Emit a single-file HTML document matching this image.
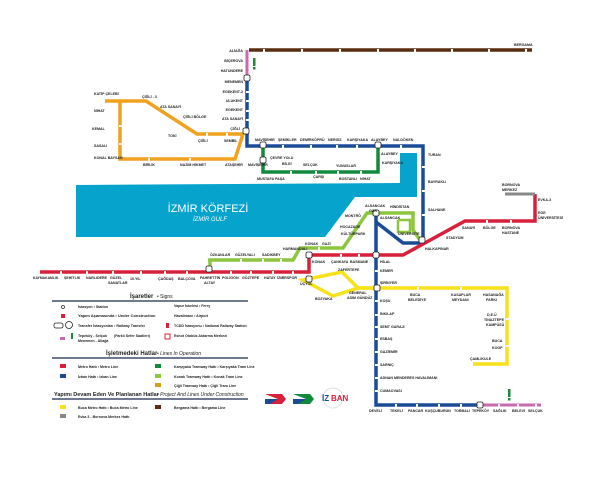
<!DOCTYPE html>
<html><head><meta charset="utf-8"><style>
html,body{margin:0;padding:0;background:#fff}
svg{display:block}
text{font-family:"Liberation Sans",sans-serif;font-weight:bold;fill:#222}
.s{font-size:3.6px}
.l{font-size:5px;font-weight:normal}
</style></head><body>
<svg width="600" height="487" viewBox="0 0 600 487" xmlns="http://www.w3.org/2000/svg">
<!-- gulf -->
<polygon points="76,185 400,183 400,153 417,153 417,197 355,197 325,237 76,237" fill="#06a3cc"/>
<text x="208" y="212" text-anchor="middle" style="font-size:11px;font-weight:normal;fill:#fff">İZMİR KÖRFEZİ</text>
<text x="210" y="221" text-anchor="middle" style="font-size:6px;font-style:italic;font-weight:normal;fill:#fff">İZMİR GULF</text>

<line x1="249" y1="50" x2="532" y2="50" stroke="#5a2d12" stroke-width="3.5"/>
<text x="514" y="46" class="s">BERGAMA</text>
<line x1="247" y1="50" x2="247" y2="78" stroke="#c86ab0" stroke-width="3"/>
<rect x="253" y="58" width="2.5" height="8" fill="#1a8a3a"/><rect x="253" y="67" width="2.5" height="2.5" fill="#1a8a3a"/>
<polyline points="247,78 247,146 423,146 423,240" fill="none" stroke="#1b4b97" stroke-width="3.5"/>
<polyline points="376,213 376,405 480,405" fill="none" stroke="#1b4b97" stroke-width="3.5"/>
<polyline points="376,222 403,243 423,243" fill="none" stroke="#1b4b97" stroke-width="3.5"/>
<line x1="480" y1="405" x2="541" y2="405" stroke="#c86ab0" stroke-width="3"/>
<rect x="508" y="389" width="2.5" height="8" fill="#1a8a3a"/><rect x="508" y="398" width="2.5" height="2.5" fill="#1a8a3a"/>

<polyline points="105,101 146,101 197,134 243,134 235,159 120,159 120,101" fill="none" stroke="#f0a21f" stroke-width="3.5"/>
<polyline points="263,146 263,172 378,172 378,146" fill="none" stroke="#138a3b" stroke-width="3.5"/>
<polyline points="40,272 309,272 309,255 403,255 465,221 535,221 535,194" fill="none" stroke="#d8203a" stroke-width="3.5"/>
<line x1="505" y1="194" x2="535" y2="194" stroke="#888" stroke-width="3"/>
<polyline points="208,260 293,260 300,248 343,248 367,213 413,213 413,230 420,240" fill="none" stroke="#8cc63f" stroke-width="3.5"/>
<line x1="210" y1="260" x2="210" y2="272" stroke="#8cc63f" stroke-width="3.5"/>
<polyline points="398,220 410,220 410,232 398,232 398,220" fill="none" stroke="#8cc63f" stroke-width="2.5"/>
<polyline points="358,288 507,288 507,364 473,364" fill="none" stroke="#f7e11b" stroke-width="3.5"/>
<polygon points="303,280 342,272 358,288 333,296" fill="none" stroke="#f7e11b" stroke-width="3.5"/>
<line x1="358" y1="288" x2="376" y2="288" stroke="#f7e11b" stroke-width="3.5"/>

<g fill="#fff">
<rect x="263" y="49" width="2" height="3"/><rect x="301" y="49" width="2" height="3"/><rect x="339" y="49" width="2" height="3"/><rect x="377" y="49" width="2" height="3"/><rect x="414" y="49" width="2" height="3"/><rect x="451" y="49" width="2" height="3"/><rect x="488" y="49" width="2" height="3"/><rect x="525" y="49" width="2" height="3"/>
<rect x="60" y="271" width="2" height="3"/><rect x="86" y="271" width="2" height="3"/><rect x="112" y="271" width="2" height="3"/><rect x="140" y="271" width="2" height="3"/><rect x="164" y="271" width="2" height="3"/><rect x="186" y="271" width="2" height="3"/><rect x="230" y="271" width="2" height="3"/><rect x="250" y="271" width="2" height="3"/><rect x="272" y="271" width="2" height="3"/><rect x="292" y="271" width="2" height="3"/>
<rect x="340" y="254" width="2" height="3"/><rect x="358" y="254" width="2" height="3"/><rect x="486" y="220" width="2" height="3"/><rect x="510" y="220" width="2" height="3"/>
<rect x="282" y="145" width="2" height="3"/><rect x="310" y="145" width="2" height="3"/><rect x="336" y="145" width="2" height="3"/><rect x="356" y="145" width="2" height="3"/><rect x="400" y="145" width="2" height="3"/>
<rect x="422" y="166" width="3" height="2"/><rect x="422" y="190" width="3" height="2"/><rect x="422" y="214" width="3" height="2"/>
<rect x="246" y="100" width="3" height="2"/><rect x="246" y="110" width="3" height="2"/><rect x="246" y="119" width="3" height="2"/><rect x="246" y="91" width="3" height="2"/>
<rect x="375" y="270" width="3" height="2"/><rect x="375" y="300" width="3" height="2"/><rect x="375" y="314" width="3" height="2"/><rect x="375" y="326" width="3" height="2"/><rect x="375" y="338" width="3" height="2"/><rect x="375" y="351" width="3" height="2"/><rect x="375" y="364" width="3" height="2"/><rect x="375" y="377" width="3" height="2"/><rect x="375" y="390" width="3" height="2"/>
<rect x="395" y="404" width="2" height="3"/><rect x="416" y="404" width="2" height="3"/><rect x="438" y="404" width="2" height="3"/><rect x="460" y="404" width="2" height="3"/><rect x="498" y="404" width="2" height="3"/><rect x="517" y="404" width="2" height="3"/><rect x="535" y="404" width="2" height="3"/>
<rect x="417" y="287" width="2" height="3"/><rect x="460" y="287" width="2" height="3"/><rect x="506" y="318" width="3" height="2"/><rect x="506" y="345" width="3" height="2"/>
<rect x="119" y="125" width="3" height="2"/><rect x="119" y="143" width="3" height="2"/><rect x="148" y="158" width="2" height="3"/><rect x="189" y="158" width="2" height="3"/><rect x="206" y="133" width="2" height="3"/><rect x="226" y="133" width="2" height="3"/>
<rect x="290" y="171" width="2" height="3"/><rect x="315" y="171" width="2" height="3"/><rect x="337" y="171" width="2" height="3"/><rect x="360" y="171" width="2" height="3"/>
<rect x="240" y="259" width="2" height="3"/><rect x="262" y="259" width="2" height="3"/><rect x="280" y="259" width="2" height="3"/><rect x="318" y="247" width="2" height="3"/>
</g>
<g fill="#fff" stroke="#222" stroke-width="0.8">
<rect x="244" y="75" width="6" height="6" rx="1.5"/><rect x="243" y="128" width="6" height="6" rx="1.5"/>
<rect x="260" y="142" width="6" height="6" rx="1.5"/><rect x="260" y="157" width="6" height="6" rx="1.5"/>
<rect x="375" y="142" width="6" height="6" rx="1.5"/><rect x="373" y="210" width="6" height="6" rx="1.5"/>
<rect x="419" y="237" width="6" height="6" rx="1.5"/><rect x="206" y="266" width="6" height="6" rx="1.5"/>
<rect x="306" y="252" width="6" height="6" rx="1.5"/><rect x="306" y="276" width="6" height="6" rx="1.5"/>
<rect x="373" y="252" width="6" height="6" rx="1.5"/><rect x="374" y="285" width="6" height="6" rx="1.5"/>
<rect x="477" y="402" width="6" height="6" rx="1.5"/>
</g>

<g class="s">
<g text-anchor="end">
<text x="243" y="52">ALİAĞA</text><text x="243" y="62">BİÇEROVA</text><text x="243" y="72">HATUNDERE</text><text x="243" y="83">MENEMEN</text>
<text x="243" y="93">EGEKENT-2</text><text x="243" y="102">ULUKENT</text><text x="243" y="111">EGEKENT</text><text x="243" y="120">ATA SANAYİ</text><text x="240" y="130">ÇİĞLİ</text>
</g>
<text x="255" y="141">MAVİŞEHİR</text><text x="278" y="141">ŞEMİKLER</text><text x="300" y="141">DEMİRKÖPRÜ</text><text x="328" y="141">NERGİZ</text><text x="347" y="141">KARŞIYAKA</text><text x="371" y="141">ALAYBEY</text><text x="393" y="141">NALDÖKEN</text>
<text x="428" y="156">TURAN</text><text x="428" y="183">BAYRAKLI</text><text x="428" y="211">SALHANE</text>
<text x="502" y="186">BORNOVA</text><text x="502" y="191">MERKEZ</text><text x="538" y="201">EVKA-3</text><text x="538" y="214">EGE</text><text x="538" y="219">ÜNİVERSİTESİ</text>
<text x="462" y="229">SANAYİ</text><text x="483" y="229">BÖLGE</text><text x="502" y="229">BORNOVA</text><text x="502" y="234">HASTANE</text>
<text x="446" y="239">STADYUM</text><text x="425" y="250">HALKAPINAR</text>
<text x="365" y="207">ALSANCAK</text><text x="369" y="212">GAR</text>
<text x="33" y="279" style="font-size:3.4px">KAYMAKAMLIK</text><text x="64" y="279">ŞEHİTLİK</text><text x="86" y="279">NARLIDERE</text><text x="110" y="279">GÜZEL</text><text x="108" y="284">SANATLAR</text><text x="130" y="280">10.YIL</text><text x="158" y="280">ÇAĞDAŞ</text><text x="178" y="280">BALÇOVA</text><text x="200" y="279">FAHRETTİN</text><text x="204" y="284">ALTAY</text><text x="222" y="279">POLİGON</text><text x="242" y="279">GÖZTEPE</text><text x="264" y="279">HATAY</text><text x="277" y="279">İZMİRSPOR</text>
<text x="312" y="263">KONAK</text><text x="331" y="263">ÇANKAYA</text><text x="350" y="263">BASMANE</text><text x="380" y="263">HİLAL</text>
<text x="338" y="271">ZAFERTEPE</text><text x="300" y="285">ÜÇYOL</text><text x="315" y="300">BOZYAKA</text><text x="349" y="294">GENERAL</text><text x="347" y="299">ASIM GÜNDÜZ</text>
<text x="380" y="272">KEMER</text><text x="380" y="284">ŞİRİNYER</text><text x="380" y="302">KOŞU</text><text x="380" y="315">İNKILAP</text><text x="380" y="328">SEMT GARAJI</text><text x="380" y="340">ESBAŞ</text><text x="380" y="353">GAZİEMİR</text><text x="380" y="366">SARNIÇ</text><text x="380" y="379">ADNAN MENDERES HAVALİMANI</text><text x="380" y="392">CUMAOVASI</text>
<text x="369" y="412">DEVELİ</text><text x="390" y="412">TEKELİ</text><text x="408" y="412">PANCAR</text><text x="425" y="412">KUŞÇUBURUN</text><text x="454" y="412">TORBALI</text><text x="472" y="412">TEPEKÖY</text><text x="493" y="412">SAĞLIK</text><text x="512" y="412">BELEVİ</text><text x="528" y="412">SELÇUK</text>
<text x="410" y="296">BUCA</text><text x="408" y="301">BELEDİYE</text><text x="451" y="296">KASAPLAR</text><text x="452" y="301">MEYDANI</text><text x="483" y="296">HASANAĞA</text><text x="486" y="301">PARKI</text>
<text x="487" y="316">D.E.Ü</text><text x="484" y="321">TINAZTEPE</text><text x="486" y="326">KAMPÜSÜ</text><text x="492" y="342">BUCA</text><text x="492" y="349">KOOP</text><text x="470" y="360">ÇAMLIKULE</text>
<text x="94" y="95">KATİP ÇELEBİ</text><text x="142" y="98">ÇİĞLİ - 3</text><text x="94" y="112">NİHAT</text><text x="92" y="130">KEMAL</text><text x="94" y="147">SASALI</text><text x="94" y="159">KONAL BAYSAN</text>
<text x="160" y="108">ATA SANAYİ</text><text x="183" y="118">ÇİĞLİ BÖLGE</text><text x="168" y="137">TOKİ</text><text x="198" y="142">ÇİĞLİ</text><text x="224" y="142">SEMBİL</text>
<text x="143" y="166">BİRLİK</text><text x="180" y="166">NAZIM HİKMET</text><text x="225" y="166">ATAŞEHİR</text>
<text x="270" y="159">ÇEVRE YOLU</text><text x="248" y="166">MAVİŞEHİR</text><text x="257" y="180">MUSTAFA PAŞA</text>
<text x="282" y="165">BİLGİ</text><text x="303" y="166">SELÇUK</text><text x="313" y="178">ÇARŞI</text><text x="336" y="167">YUNUSLAR</text><text x="339" y="180">BOSTANLI</text><text x="360" y="180">NİHAT</text>
<text x="381" y="155">ALAYBEY</text><text x="382" y="164">KARŞIYAKA</text>
<text x="210" y="256">ÖZKANLAR</text><text x="235" y="256">GÜZELYALI</text><text x="262" y="256">SADIKBEY</text><text x="283" y="250">HARMANDALI</text><text x="305" y="245">KONAK</text><text x="322" y="245">GAZİ</text><text x="341" y="235">KÜLTÜRPARK</text><text x="340" y="228">HOCAZADE</text><text x="345" y="217">MONTRÖ</text><text x="390" y="208">HİNDİSTAN</text><text x="380" y="219">ALSANCAK</text><text x="398" y="235">ÜNİVERSİTE</text>
</g>

<text x="130" y="298" style="font-size:6px">İşaretler</text><text x="157" y="298" class="l">• Signs</text>
<line x1="52" y1="301" x2="248" y2="301" stroke="#1b2b4a" stroke-width="1.2"/>
<g class="l" style="font-size:3.6px">
<circle cx="63" cy="307" r="1.5" fill="none" stroke="#222" stroke-width="0.7"/>
<text x="78" y="308">İstasyon • Station</text>
<rect x="61" y="314" width="4" height="4" fill="#d8203a"/><text x="78" y="317" style="font-size:4px">Yapım Aşamasında • Under Construction</text>
<rect x="54" y="323" width="9" height="5" rx="2" fill="none" stroke="#222" stroke-width="0.8"/><circle cx="69" cy="325" r="3.5" fill="none" stroke="#222" stroke-width="0.8"/>
<text x="78" y="327">Transfer İstasyonları • Railway Transfer</text>
<rect x="60" y="337" width="5" height="3" fill="#c86ab0"/><rect x="71" y="333" width="2" height="6" fill="#1a8a3a"/>
<text x="78" y="337">Tepeköy - Selçuk</text><text x="78" y="342">Menemen - Aliağa</text><text x="114" y="337">(Farklı Sefer Saatleri)</text>
<text x="174" y="307">Vapur İskelesi • Ferry</text><text x="174" y="317">Havalimanı • Airport</text><text x="174" y="327">TCDD İstasyonu • National Railway Station</text><text x="174" y="337">Eshot Otobüs Aktarma Merkezi</text>
<rect x="166" y="323" width="3" height="5" fill="#d8203a"/><rect x="165" y="334" width="5" height="5" fill="none" stroke="#d8203a"/>
</g>
<text x="106" y="355" style="font-size:6px">İşletmedeki Hatlar</text><text x="157" y="355" class="l" style="font-style:italic">• Lines In Operation</text>
<line x1="52" y1="358" x2="248" y2="358" stroke="#1b2b4a" stroke-width="1.2"/>
<g class="l" style="font-size:3.6px">
<rect x="60" y="364" width="6" height="4" fill="#d8203a"/><text x="78" y="368">Metro Hattı • Metro Line</text>
<rect x="60" y="374" width="6" height="4" fill="#1b4b97"/><text x="78" y="378">İzban Hattı • Izban Line</text>
<rect x="155" y="364" width="6" height="4" fill="#138a3b"/><text x="174" y="368">Karşıyaka Tramway Hattı • Karşıyaka Tram Line</text>
<rect x="155" y="374" width="6" height="4" fill="#8cc63f"/><text x="174" y="378">Konak Tramway Hattı • Konak Tram Line</text>
<rect x="155" y="383" width="6" height="4" fill="#d4a020"/><text x="174" y="387">Çiğli Tramway Hattı • Çiğli Tram Line</text>
</g>
<text x="54" y="396" style="font-size:5.5px">Yapımı Devam Eden Ve Planlanan Hatlar</text><text x="157" y="396" class="l" style="font-style:italic">• Project And Lines Under Construction</text>
<line x1="52" y1="399" x2="248" y2="399" stroke="#1b2b4a" stroke-width="1.2"/>
<g class="l" style="font-size:3.6px">
<rect x="60" y="405" width="6" height="4" fill="#f7e11b"/><text x="78" y="409">Buca Metro Hattı • Buca Metro Line</text>
<rect x="60" y="414" width="6" height="4" fill="#888"/><text x="78" y="418">Evka 3 - Bornova Merkez Hattı</text>
<rect x="155" y="405" width="6" height="4" fill="#5a2d12"/><text x="174" y="409">Bergama Hattı • Bergama Line</text>
</g>
<g>
<polygon points="265,394 282,394 286,399 282,404 265,404 278,399" fill="#d8203a"/>
<polygon points="265,399 278,399 270,404 265,404" fill="#1b4b97"/>
<polygon points="293,394 310,394 314,399 310,404 293,404 306,399" fill="#138a3b"/>
<polygon points="293,399 306,399 298,404 293,404" fill="#1b4b97"/>
<circle cx="333" cy="398" r="10" fill="none" stroke="#ddd" stroke-width="1"/>
<text x="322" y="401" style="font-size:8px;fill:#1b4b97">İZ</text><text x="331" y="401" style="font-size:8px;fill:#d8203a">BAN</text>
</g>
</svg>
</body></html>
